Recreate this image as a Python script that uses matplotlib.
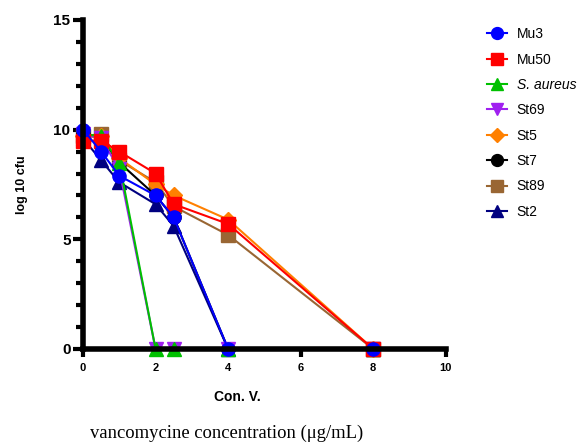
import matplotlib.pyplot as plt
from matplotlib.ticker import MultipleLocator

conc = [0, 0.5, 1, 2, 2.5, 4, 8]
names = ["Mu3", "Mu50", "S. aureus", "St69", "St5", "St7", "St89", "St2"]
mu3 = [10.0, 9.0, 7.9, 7.0, 6.0, 0, 0]
mu50 = [9.5, 9.5, 9.0, 8.0, 6.6, 5.7, 0]
saureus = [9.8, 9.7, 8.5, 0, 0, 0, 0]
st69 = [9.8, 9.6, 8.2, 0, 0, 0, 0]
st5 = [9.7, 9.7, 8.7, 7.5, 7.0, 5.9, 0]
st7 = [9.8, 9.6, 8.5, 7.0, 6.0, 0, 0]
st89 = [9.7, 9.8, 8.6, 7.6, 6.5, 5.2, 0]
st2 = [9.6, 8.6, 7.6, 6.6, 5.6, 0, 0]

series = {
    "Mu3": (mu3, "#0000FF", "o"),
    "Mu50": (mu50, "#FF0000", "s"),
    "S. aureus": (saureus, "#00C000", "^"),
    "St69": (st69, "#A020F0", "v"),
    "St5": (st5, "#FF8000", "D"),
    "St7": (st7, "#000000", "o"),
    "St89": (st89, "#996633", "s"),
    "St2": (st2, "#000080", "^"),
}

fig = plt.figure(figsize=(5.82, 4.44), dpi=100)
ax = fig.add_axes([0.1426, 0.214, 0.6234, 0.741])

draw_order = ["St2", "St89", "St7", "St5", "St69", "S. aureus", "Mu50", "Mu3"]
handles = {}
for nm in draw_order:
    vals, col, mk = series[nm]
    ms = 8 if mk == "D" else 9.5
    h, = ax.plot(conc, vals, color=col, marker=mk, markersize=ms, lw=1.5,
                 clip_on=False, label=nm)
    handles[nm] = h

ax.set_xlim(0, 10)
ax.set_ylim(0, 15)
for s in ["top", "right"]:
    ax.spines[s].set_visible(False)
for s in ["left", "bottom"]:
    ax.spines[s].set_linewidth(4)
ax.xaxis.set_major_locator(MultipleLocator(2))
ax.yaxis.set_major_locator(MultipleLocator(5))
ax.yaxis.set_minor_locator(MultipleLocator(1))
ax.tick_params(axis="x", length=6, width=3, labelsize=8, pad=4)
ax.tick_params(axis="y", which="major", length=7, width=3, labelsize=11, pad=2)
ax.tick_params(axis="y", which="minor", length=5, width=3)
for lab in ax.get_xticklabels() + ax.get_yticklabels():
    lab.set_fontweight("bold")
    lab.set_family("Liberation Sans")

ax.set_ylabel("log 10 cfu", fontsize=9, fontweight="bold", family="Liberation Sans", labelpad=18)

fig.text(237 / 582, 1 - 397 / 444, "Con. V.", fontsize=10, fontweight="bold",
         family="Liberation Sans", ha="center", va="center")
fig.text(227 / 582, 1 - 433 / 444, "vancomycine concentration (\u03bcg/mL)", fontsize=13.4,
         family="Liberation Serif", ha="center", va="center")

leg = fig.legend([handles[n] for n in names], names, loc="upper left",
                 bbox_to_anchor=(0.815, 0.967), frameon=False,
                 prop={"family": "Liberation Sans", "size": 10},
                 labelspacing=0.82, handlelength=1.45, handletextpad=0.7,
                 markerscale=0.9)
for t in leg.get_texts():
    if t.get_text() == "S. aureus":
        t.set_fontstyle("italic")

fig.savefig("out.png", dpi=100)
